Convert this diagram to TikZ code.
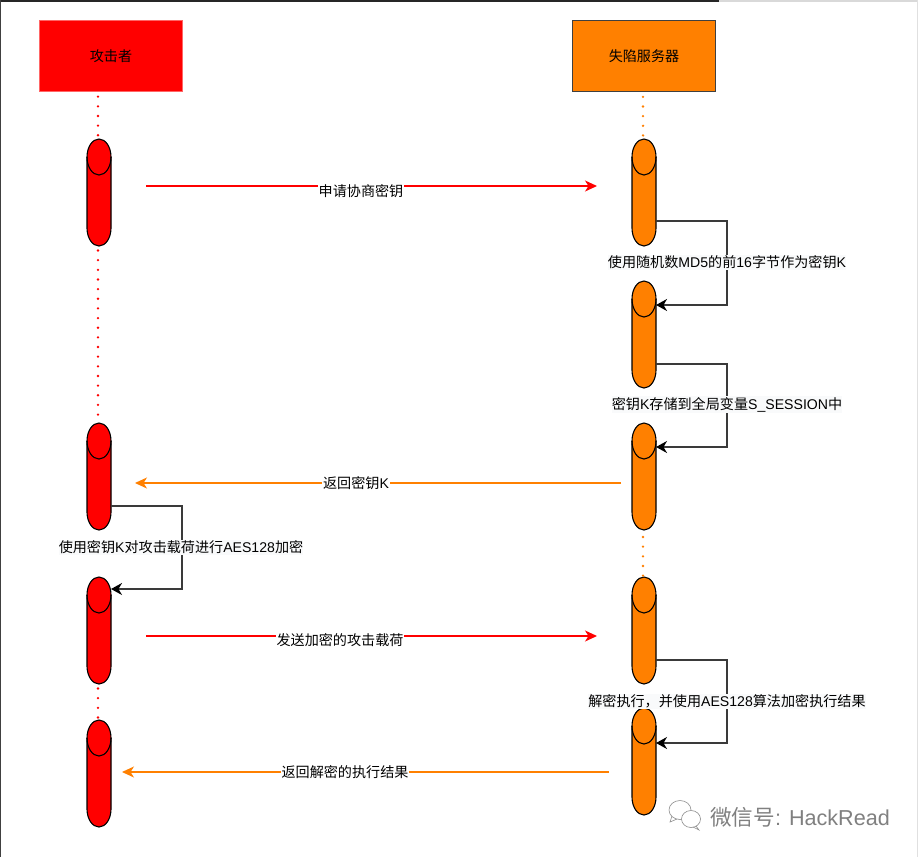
\documentclass[tikz,border=0pt]{standalone}
\usepackage{fontspec}
\setmainfont{Liberation Sans}
\newfontfamily\cjk{Noto Sans CJK SC}
\usetikzlibrary{arrows.meta}
\newcommand{\zh}[1]{{\cjk #1}}
\definecolor{fireorange}{HTML}{FF8000}
\definecolor{lblbg}{HTML}{F9FAFB}
\definecolor{loopline}{HTML}{3A3A3A}
\tikzset{
  x=1pt,y=-1pt,
  every node/.style={font=\fontsize{14.1}{16}\selectfont,text=black,inner sep=1pt},
  headbox/.style={minimum width=142.5pt,minimum height=71.5pt,inner sep=0pt},
  cylbox/.style={minimum width=24pt,minimum height=107pt,inner sep=0pt,outer sep=0pt},
  cylline/.style={draw=black,line width=1.1pt},
  dots/.style={line width=2.6pt,line cap=round,dash pattern=on 0pt off 9.65pt},
  msg/.style={line width=1.3pt,-{Stealth[length=12pt,width=11pt,inset=3.5pt]}},
  loopedge/.style={draw=loopline,line width=1.4pt,-{Stealth[length=11pt,width=12pt,inset=3.5pt,color=black,fill=black]}},
  msglabel/.style={fill=white,inner xsep=1pt,inner ysep=1pt},
  looplabel/.style={fill=lblbg,inner xsep=0pt,inner ysep=1pt},
}
\newcommand{\cyl}[4]{%
  \node[cylbox] (#1) at (#2,#3+53.5) {};
  \draw[cylline,fill=#4] ([yshift=-18pt]#1.north west) arc[start angle=180,end angle=0,x radius=12pt,y radius=18pt]
    -- ([yshift=18pt]#1.south east) arc[start angle=0,end angle=-180,x radius=12pt,y radius=18pt] -- cycle;
  \draw[cylline] ([yshift=-18pt]#1.north west) arc[start angle=180,end angle=360,x radius=12pt,y radius=18pt];
}
\begin{document}
\begin{tikzpicture}
\useasboundingbox (0,0) rectangle (918,857);
\fill[white] (0,0) rectangle (918,857);
% screenshot frame
\fill[black!85] (0,0) rectangle (719,1.6);
\fill[black!15] (719,0) rectangle (918,1.6);
\foreach \tx in {752,785,818,851,884} \fill[black!15] (\tx,0) rectangle (\tx+1,1.6);
\fill[black!75] (0,0) rectangle (1,857);
\fill[black!12] (917,0) rectangle (918,857);
% header boxes
\node[headbox,fill=red,draw=red!60,line width=0.8pt] (att) at (111,56) {\zh{攻击者}};
\node[headbox,fill=fireorange,draw=black!75,line width=1.2pt] (srv) at (644,56) {\zh{失陷服务器}};
% activations
\cyl{a1}{99}{139}{red}
\cyl{a2}{99}{423}{red}
\cyl{a3}{99}{577}{red}
\cyl{a4}{99}{720}{red}
\cyl{s1}{644}{139}{fireorange}
\cyl{s2}{644}{281}{fireorange}
\cyl{s3}{644}{423}{fireorange}
\cyl{s4}{644}{577}{fireorange}
\cyl{s5}{644}{708}{fireorange}
% lifelines
\draw[dots,red] ([xshift=-1pt,yshift=-4.5pt]a1.north |- att.south) -- ([xshift=-1pt]a1.north);
\draw[dots,red] ([xshift=-1pt,yshift=-4.5pt]a1.south) -- ([xshift=-1pt]a2.north);
\draw[dots,red] ([xshift=-1pt,yshift=-4.5pt]a3.south) -- ([xshift=-1pt]a4.north);
\draw[dots,fireorange] ([xshift=-1pt,yshift=-4.5pt]s1.north |- srv.south) -- ([xshift=-1pt]s1.north);
\draw[dots,fireorange] ([xshift=-1pt,yshift=-7pt]s3.south) -- ([xshift=-1pt]s4.north);
% messages
\coordinate (m1a) at (146,186); \coordinate (m1b) at (597,186);
\coordinate (m2a) at (621,483); \coordinate (m2b) at (135,483);
\coordinate (m3a) at (146,636); \coordinate (m3b) at (597,636);
\coordinate (m4a) at (609,772); \coordinate (m4b) at (122,772);
\draw[msg,red] (m1a) -- (m1b);
\node[msglabel] (l1) at (361,191.5) {\zh{申请协商密钥}};
\draw[msg,fireorange] (m2a) -- (m2b);
\node[msglabel] (l2) at (356,483.5) {\zh{返回密钥}K};
\draw[msg,red] (m3a) -- (m3b);
\node[msglabel] (l3) at (340,640.5) {\zh{发送加密的攻击载荷}};
\draw[msg,fireorange] (m4a) -- (m4b);
\node[msglabel] (l4) at (345,772.5) {\zh{返回解密的执行结果}};
% self loops
\coordinate (p1a) at (656,221); \coordinate (p1b) at (656,305);
\coordinate (p2a) at (656,364); \coordinate (p2b) at (656,447);
\coordinate (p3a) at (656,660); \coordinate (p3b) at (656,743);
\coordinate (p4a) at (111,506); \coordinate (p4b) at (111,589);
\draw[loopedge] (p1a) -- (727,221) -- (727,305) -- (p1b);
\draw[loopedge] (p2a) -- (727,364) -- (727,447) -- (p2b);
\draw[loopedge] (p3a) -- (727,660) -- (727,743) -- (p3b);
\draw[loopedge] (p4a) -- (182,506) -- (182,589) -- (p4b);
\node[looplabel] (t1) at (727,262.5) {\zh{使用随机数}MD5\zh{的前}16\zh{字节作为密钥}K};
\node[looplabel] (t2) at (727,404.5) {\zh{密钥}K\zh{存储到全局变量}S\_SESSION\zh{中}};
\node[looplabel] (t3) at (727,701.5) {\zh{解密执行，并使用}AES128\zh{算法加密执行结果}};
\node[looplabel] (t4) at (181,547.5) {\zh{使用密钥}K\zh{对攻击载荷进行}AES128\zh{加密}};
% watermark
\begin{scope}[draw=black!45,fill=white,line width=0.6pt]
\filldraw (680,810) ellipse[x radius=11pt,y radius=9.5pt];
\draw (672,816) -- (670,822) -- (677,819);
\filldraw (691,819) ellipse[x radius=9.5pt,y radius=8.5pt];
\draw (696,826) -- (699,830) -- (693,827);
\end{scope}
\node[font=\fontsize{21.6}{24}\selectfont,text=black!50,anchor=west,inner sep=0pt] (wm) at (710,817) {\zh{微信号}: HackRead};
\end{tikzpicture}
\end{document}
